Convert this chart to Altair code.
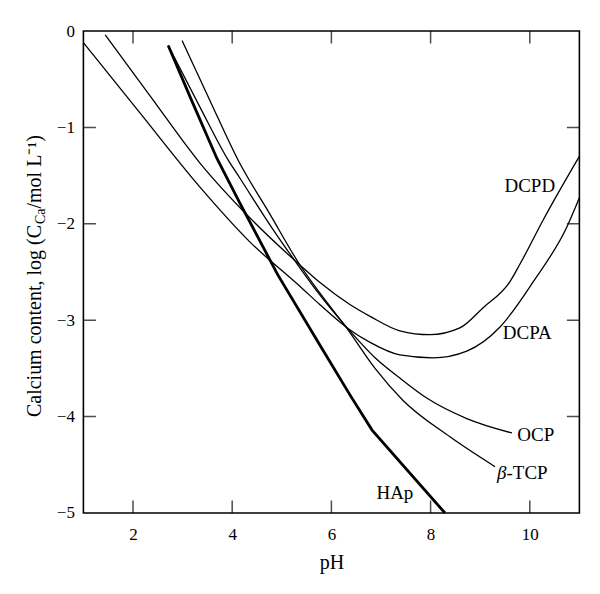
import altair as alt
import pandas as pd

FONT = "Liberation Serif"

# ---- data (pH, log C_Ca) ----
dcpa_ph = [1.0, 2.14, 3.35, 4.36, 5.37, 5.77, 6.32, 6.78, 7.38, 8.05, 8.73, 9.40, 10.07, 10.75, 11.0]
dcpa_v = [-0.12, -0.85, -1.62, -2.19, -2.65, -2.84, -3.08, -3.23, -3.36, -3.39, -3.32, -3.07, -2.60, -2.03, -1.73]

dcpd_ph = [1.44, 2.34, 3.35, 4.36, 5.37, 5.77, 6.38, 6.78, 7.38, 7.99, 8.59, 9.06, 9.60, 9.80, 10.27, 11.0]
dcpd_v = [-0.04, -0.67, -1.37, -1.94, -2.43, -2.61, -2.84, -2.96, -3.11, -3.15, -3.08, -2.87, -2.60, -2.42, -1.96, -1.30]

ocp_ph = [2.71, 3.35, 3.92, 4.16, 4.76, 5.37, 5.77, 6.32, 6.88, 7.38, 7.93, 8.73, 9.64]
ocp_v = [-0.15, -0.79, -1.34, -1.53, -2.01, -2.46, -2.74, -3.08, -3.39, -3.60, -3.81, -4.02, -4.17]

tcp_ph = [2.99, 3.55, 4.12, 4.76, 5.37, 5.77, 6.32, 6.88, 7.44, 8.39, 9.30]
tcp_v = [-0.10, -0.72, -1.34, -1.90, -2.43, -2.72, -3.09, -3.50, -3.83, -4.21, -4.52]

hap_ph = [2.71, 3.19, 3.69, 4.16, 4.92, 5.77, 6.38, 6.82, 8.29]
hap_v = [-0.15, -0.73, -1.32, -1.79, -2.53, -3.26, -3.78, -4.14, -5.0]

label_text = ["DCPD", "DCPA", "OCP", "HAp"]
label_ph = [10.0, 9.95, 10.12, 7.28]
label_v = [-1.61, -3.13, -4.19, -4.79]

tcp_label_ph = [9.53]
tcp_label_v = [-4.585]

x_ticks = [2, 4, 6, 8, 10]
y_ticks = [0, -1, -2, -3, -4, -5]
y_inner_ticks = [-1, -2, -3, -4]

# ---- build tables ----
def frame(name, xs, ys):
    return pd.DataFrame({"series": name, "pH": xs, "v": ys, "order": range(len(xs))})

thin = pd.concat([
    frame("DCPA", dcpa_ph, dcpa_v),
    frame("DCPD", dcpd_ph, dcpd_v),
    frame("OCP", ocp_ph, ocp_v),
    frame("TCP", tcp_ph, tcp_v),
])
hap = frame("HAp", hap_ph, hap_v)
labels = pd.DataFrame({"text": label_text, "pH": label_ph, "v": label_v})
tcp_lab = pd.DataFrame({"pH": tcp_label_ph, "v": tcp_label_v})
xt = pd.DataFrame({"t": x_ticks})
yt = pd.DataFrame({"t": y_inner_ticks})
one = pd.DataFrame({"a": [0]})

xscale = alt.Scale(domain=[1, 11], nice=False, zero=False)
yscale = alt.Scale(domain=[-5, 0], nice=False, zero=False)

X = alt.X("pH:Q", scale=xscale,
          axis=alt.Axis(values=x_ticks, title="pH", grid=False, ticks=False, tickSize=0,
                        domain=False, labelPadding=14, titlePadding=10, format="d",
                        labelFontSize=17, titleFontSize=20, titleFontWeight="normal",
                        labelFont=FONT, titleFont=FONT, labelColor="black", titleColor="black"))
Y = alt.Y("v:Q", scale=yscale,
          axis=alt.Axis(values=y_ticks, title="", grid=False, ticks=False, tickSize=0,
                        domain=False, labelPadding=9, labelFontSize=17, format="d",
                        labelFont=FONT, labelColor="black"))

thin_lines = alt.Chart(thin).mark_line(color="black", strokeWidth=1.3, interpolate="monotone").encode(
    x=X, y=Y, detail="series:N", order="order:Q")
hap_line = alt.Chart(hap).mark_line(color="black", strokeWidth=2.8).encode(
    x=X, y=Y, order="order:Q")

text_layer = alt.Chart(labels).mark_text(font=FONT, fontSize=19, color="black", align="center",
                                         baseline="middle").encode(x="pH:Q", y="v:Q", text="text:N")
beta = alt.Chart(tcp_lab).mark_text(font=FONT, fontSize=19, fontStyle="italic", color="black",
                                    align="right", baseline="middle", text="β").encode(x="pH:Q", y="v:Q")
tcp_txt = alt.Chart(tcp_lab).mark_text(font=FONT, fontSize=19, color="black",
                                       align="left", baseline="middle", text="-TCP").encode(x="pH:Q", y="v:Q")

tick_kw = dict(color="black", thickness=1.5, size=25, clip=True)
bottom_ticks = alt.Chart(xt).mark_tick(orient="vertical", **tick_kw).encode(x="t:Q", y=alt.datum(-5))
top_ticks = alt.Chart(xt).mark_tick(orient="vertical", **tick_kw).encode(x="t:Q", y=alt.datum(0))
left_ticks = alt.Chart(yt).mark_tick(orient="horizontal", **tick_kw).encode(y="t:Q", x=alt.datum(1))
right_ticks = alt.Chart(yt).mark_tick(orient="horizontal", **tick_kw).encode(y="t:Q", x=alt.datum(11))

# y-axis title with subscript, drawn as rotated text pieces
P = 194
TX = -42
t1 = alt.Chart(one).mark_text(font=FONT, fontSize=20, color="black", angle=270, align="right",
                              baseline="alphabetic", text="Calcium content, log (C").encode(
    x=alt.value(TX), y=alt.value(P))
t2 = alt.Chart(one).mark_text(font=FONT, fontSize=14, color="black", angle=270, align="left",
                              baseline="alphabetic", dx=1, dy=4, text="Ca").encode(
    x=alt.value(TX), y=alt.value(P))
t3 = alt.Chart(one).mark_text(font=FONT, fontSize=20, color="black", angle=270, align="left",
                              baseline="alphabetic", dx=16.5, text="/mol L\u207b\u00b9)").encode(
    x=alt.value(TX), y=alt.value(P))

chart = alt.layer(
    thin_lines, hap_line, text_layer, beta, tcp_txt,
    bottom_ticks, top_ticks, left_ticks, right_ticks, t1, t2, t3
).properties(
    width=496, height=482,
    autosize=alt.AutoSizeParams(type="none"),
    padding={"left": 75.4, "top": 23, "right": 12, "bottom": 70},
).configure_view(stroke="black", strokeWidth=1.6)

chart.save("out.html", embed_options={"renderer": "svg", "actions": False})
